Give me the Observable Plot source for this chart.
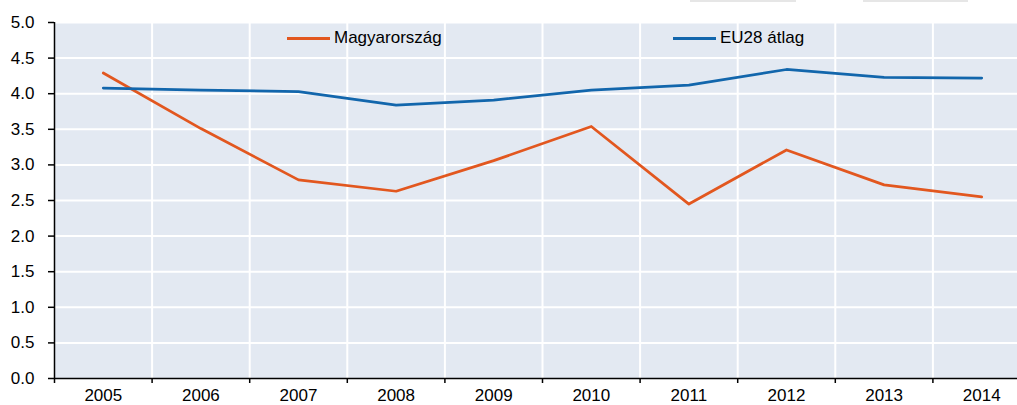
<!DOCTYPE html>
<html>
<head>
<meta charset="utf-8">
<script src="https://cdn.jsdelivr.net/npm/d3@7"></script>
<script src="https://cdn.jsdelivr.net/npm/@observablehq/plot@0.6"></script>
<style>
  html, body { margin: 0; padding: 0; background: #fff; overflow: hidden; }
  #wrap { position: relative; width: 1017px; height: 405px; overflow: hidden; font-family: "Liberation Sans", Arial, sans-serif; }
  #wrap svg { max-width: none !important; width: 1030px; height: 405px; }
  .leg { position: absolute; top: 28px; display: flex; align-items: center; font-size: 17px; color: #000; white-space: nowrap; }
  .sw { width: 43px; height: 3px; margin-right: 4px; }
  .ghost { position: absolute; top: 0; height: 2px; background: #e6e6e6; }
</style>
</head>
<body>
<div id="wrap"></div>
<script>
const years = [2005, 2006, 2007, 2008, 2009, 2010, 2011, 2012, 2013, 2014];
const hungary = [4.29, 3.51, 2.79, 2.63, 3.06, 3.54, 2.45, 3.21, 2.72, 2.55];
const eu28 = [4.08, 4.05, 4.03, 3.84, 3.91, 4.05, 4.12, 4.34, 4.23, 4.22];
const seriesNames = ["Magyarország", "EU28 átlag"];
const seriesColors = ["#e2571f", "#1266ac"];
const yTicks = [0, 0.5, 1, 1.5, 2, 2.5, 3, 3.5, 4, 4.5, 5];

const rows = [];
years.forEach((yr, i) => {
  rows.push({year: yr, value: hungary[i], series: seriesNames[0]});
  rows.push({year: yr, value: eu28[i], series: seriesNames[1]});
});
const bounds = [years[0] - 0.5, ...years.map(y => y + 0.5)];

const chart = Plot.plot({
  width: 1030,
  height: 405,
  marginLeft: 54,
  marginRight: 0,
  marginTop: 22,
  marginBottom: 27,
  style: {fontFamily: '"Liberation Sans", Arial, sans-serif', fontSize: "17px", color: "#000", background: "transparent", maxWidth: "none"},
  x: {domain: [years[0] - 0.5, years[years.length - 1] + 0.5]},
  y: {domain: [0, 5]},
  color: {domain: seriesNames, range: seriesColors},
  marks: [
    Plot.frame({fill: "#e3e9f2", stroke: null}),
    Plot.ruleY(yTicks.filter(d => d > 0), {stroke: "#fff", strokeWidth: 2}),
    Plot.ruleX(bounds.slice(1), {stroke: "#fff", strokeWidth: 2}),
    Plot.line(rows, {x: "year", y: "value", stroke: "series", z: "series", strokeWidth: 2.75}),
    Plot.axisY({ticks: yTicks, tickFormat: d => d.toFixed(1), tickSize: 6, tickPadding: 14, stroke: "#000", strokeWidth: 1.5, label: null}),
    Plot.axisX({ticks: years, tickFormat: d => String(d), tickSize: 0, tickPadding: 10, label: null}),
    Plot.axisX({ticks: bounds, tickFormat: () => "", tickSize: 5, stroke: "#000", strokeWidth: 1.5, label: null}),
    Plot.ruleX([bounds[0]], {stroke: "#000", strokeWidth: 1.5}),
    Plot.ruleY([0], {stroke: "#000", strokeWidth: 1.5})
  ]
});

const wrap = document.getElementById("wrap");
wrap.appendChild(chart);

const legPos = [287, 673];
seriesNames.forEach((name, i) => {
  const d = document.createElement("div");
  d.className = "leg";
  d.style.left = legPos[i] + "px";
  const sw = document.createElement("span");
  sw.className = "sw";
  sw.style.background = seriesColors[i];
  const t = document.createElement("span");
  t.textContent = name;
  d.appendChild(sw);
  d.appendChild(t);
  wrap.appendChild(d);
});

[[690, 106], [863, 105]].forEach(([l, w]) => {
  const g = document.createElement("div");
  g.className = "ghost";
  g.style.left = l + "px";
  g.style.width = w + "px";
  wrap.appendChild(g);
});
</script>
</body>
</html>
